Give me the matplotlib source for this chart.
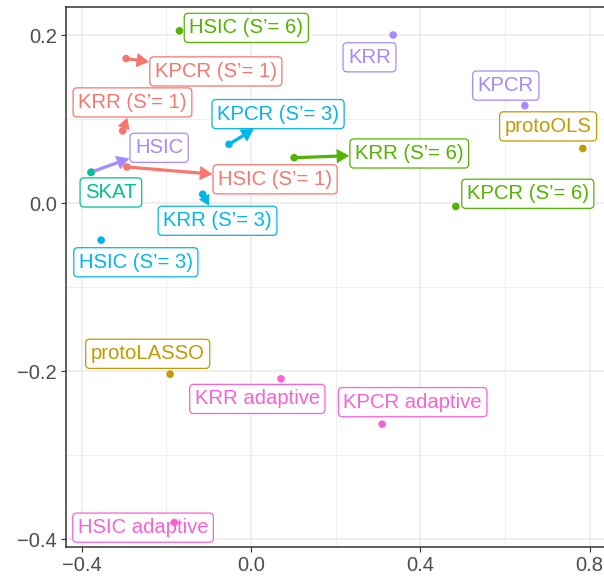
import matplotlib
matplotlib.use("Agg")
import matplotlib.pyplot as plt
from matplotlib.patches import FancyArrowPatch

plt.rcParams['font.family'] = ['Liberation Sans', 'DejaVu Sans']

# method labels, coordinates and colour group
methods = ["HSIC (S\u2019= 6)", "KPCR (S\u2019= 1)", "KRR (S\u2019= 1)", "HSIC (S\u2019= 1)",
           "HSIC", "SKAT", "KPCR (S\u2019= 3)", "KRR (S\u2019= 3)", "KRR (S\u2019= 6)",
           "KRR", "KPCR", "protoOLS", "KPCR (S\u2019= 6)", "HSIC (S\u2019= 3)",
           "protoLASSO", "KRR adaptive", "KPCR adaptive", "HSIC adaptive"]
x_vals = [-0.169, -0.295, -0.303, -0.293, -0.377, -0.378, -0.052, -0.114, 0.102,
          0.336, 0.647, 0.784, 0.484, -0.354, -0.191, 0.071, 0.310, -0.181]
y_vals = [0.205, 0.172, 0.086, 0.043, 0.037, 0.0365, 0.070, 0.0105, 0.054,
          0.200, 0.116, 0.065, -0.004, -0.044, -0.2035, -0.209, -0.263, -0.380]
groups = ["S6", "S1", "S1", "S1", "base", "skat", "S3", "S3", "S6",
          "base", "base", "proto", "S6", "S3", "proto", "adaptive", "adaptive", "adaptive"]

palette = {"S1": "#F8766D", "proto": "#C49A00", "S6": "#53B400", "skat": "#00C094",
           "S3": "#00B6EB", "base": "#A58AFF", "adaptive": "#FB61D7"}

# where each label box sits (repelled from its point), and whether a segment is drawn
label_pos = [(-0.011, 0.2085), (-0.083, 0.1567), (-0.280, 0.1198), (0.057, 0.0283),
             (-0.217, 0.0658), (-0.331, 0.0127), (0.064, 0.1059), (-0.079, -0.0210),
             (0.374, 0.0591), (0.280, 0.1735), (0.602, 0.1398), (0.702, 0.0913),
             (0.654, 0.0111), (-0.272, -0.0704), (-0.244, -0.1793), (0.015, -0.2330),
             (0.382, -0.2368), (-0.255, -0.3861)]
segment = [False, True, True, True, True, False, True, True, True,
           False, False, False, False, False, False, False, False, False]

fig = plt.figure(figsize=(6.04, 5.78), dpi=100)
ax = fig.add_axes([66 / 604, 31.3 / 578, 560 / 604, 540 / 578])

ax.set_xlim(-0.437, 0.886)
ax.set_ylim(-0.4088, 0.2337)

ax.set_xticks([-0.4, 0.0, 0.4, 0.8])
ax.set_xticklabels(["\u22120.4", "0.0", "0.4", "0.8"])
ax.set_yticks([-0.4, -0.2, 0.0, 0.2])
ax.set_yticklabels(["\u22120.4", "\u22120.2", "0.0", "0.2"])
ax.set_xticks([-0.2, 0.2, 0.6], minor=True)
ax.set_yticks([-0.3, -0.1, 0.1], minor=True)
ax.grid(which='major', color='#EBEBEB', lw=1.1)
ax.grid(which='minor', color='#EBEBEB', lw=0.55)
ax.set_axisbelow(True)
ax.tick_params(which='major', length=3.5, width=0.8, color='#333333',
               labelsize=14.5, labelcolor='#4D4D4D', pad=3)
ax.tick_params(which='minor', length=0)
for s in ax.spines.values():
    s.set_color('#333333')
    s.set_linewidth(1.1)

labels = []
for i, name in enumerate(methods):
    col = palette[groups[i]]
    lx, ly = label_pos[i]
    box = dict(boxstyle='round,pad=0.25,rounding_size=0.2', fc='white', ec=col, lw=0.9)
    t = ax.text(lx, ly, name, ha='center', va='center', fontsize=14.6, color=col,
                bbox=box, zorder=3)
    labels.append(t)

fig.canvas.draw()
to_data = ax.transData.inverted()
px_per_pt = fig.dpi / 72


def edge_point(px, py, bb):
    # where the line from the point towards the box centre meets the box edge
    cx, cy = (bb.x0 + bb.x1) / 2, (bb.y0 + bb.y1) / 2
    tx = ty = 0.0
    if px < bb.x0:
        tx = (bb.x0 - px) / (cx - px)
    elif px > bb.x1:
        tx = (bb.x1 - px) / (cx - px)
    if py < bb.y0:
        ty = (bb.y0 - py) / (cy - py)
    elif py > bb.y1:
        ty = (bb.y1 - py) / (cy - py)
    tt = max(tx, ty)
    return px + tt * (cx - px), py + tt * (cy - py)


for i, t in enumerate(labels):
    if not segment[i]:
        continue
    col = palette[groups[i]]
    bb = t.get_bbox_patch().get_window_extent()
    px, py = ax.transData.transform((x_vals[i], y_vals[i]))
    ex, ey = edge_point(px, py, bb)
    seg_len = ((ex - px) ** 2 + (ey - py) ** 2) ** 0.5 / px_per_pt
    # head sizes in points; shrink the head on very short segments
    head = min(9.0, 0.75 * seg_len)
    style = 'simple,head_length={:.2f},head_width={:.2f},tail_width=2.3'.format(
        head, head * 1.15)
    end = to_data.transform((ex, ey))
    arr = FancyArrowPatch((x_vals[i], y_vals[i]), tuple(end), arrowstyle=style,
                          mutation_scale=1, fc=col, ec='none', lw=0,
                          shrinkA=0, shrinkB=0.5, zorder=2.5)
    ax.add_patch(arr)

ax.scatter(x_vals, y_vals, c=[palette[g] for g in groups], s=30, zorder=4, lw=0)

fig.savefig("out.png", dpi=100)
